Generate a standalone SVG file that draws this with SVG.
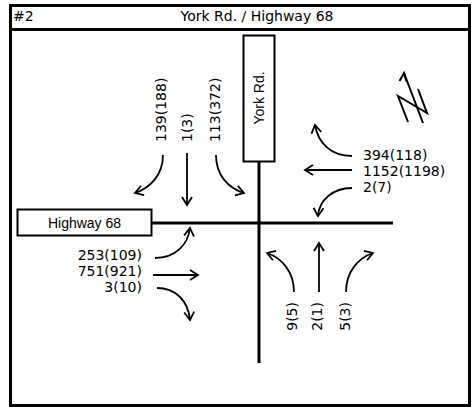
<svg xmlns="http://www.w3.org/2000/svg" width="475" height="407" viewBox="0 0 475 407">
<style>
.t{font-family:"DejaVu Sans",Verdana,sans-serif;font-size:14px;fill:#000}
.r{font-family:"Liberation Sans",Arial,sans-serif;font-size:14px;fill:#000}
.a{fill:none;stroke:#000;stroke-width:1.8;marker-end:url(#ah)}
.road{stroke:#000;stroke-width:3;fill:none}
.box{fill:#fff;stroke:#000;stroke-width:2}
</style>
<defs>
<marker id="ah" markerUnits="userSpaceOnUse" markerWidth="20" markerHeight="20" refX="10" refY="10" orient="auto" overflow="visible">
<path d="M2,5 L10,10 L2,15" fill="none" stroke="#000" stroke-width="1.8"/>
</marker>
</defs>
<rect x="0" y="0" width="475" height="407" fill="#fff"/>
<g id="frame">
<rect x="10.5" y="5.5" width="459" height="400" fill="none" stroke="#000" stroke-width="3"/>
<line x1="10" y1="29.5" x2="470" y2="29.5" stroke="#000" stroke-width="3"/>
<text class="t" x="13" y="21">#2</text>
<text class="t" x="257" y="21" text-anchor="middle">York Rd. / Highway 68</text>
</g>
<g id="roads">
<line class="road" x1="259" y1="161" x2="259" y2="363"/>
<line class="road" x1="151" y1="223" x2="393" y2="223"/>
</g>
<g id="york-rd">
<rect class="box" x="243.5" y="35.5" width="31" height="126"/>
<text class="r" transform="translate(264,98) rotate(-90)" text-anchor="middle">York Rd.</text>
</g>
<g id="highway-68">
<rect class="box" x="17.5" y="209.5" width="134" height="26"/>
<text class="r" x="84.5" y="227.5" text-anchor="middle">Highway 68</text>
</g>
<g id="north-arrow" fill="none" stroke="#000" stroke-width="2">
<line x1="404" y1="73" x2="423" y2="123"/>
<path d="M399.5,81 L404,73 L406.5,81.5"/>
<polyline points="408,122 398,96 427,113 418,89"/>
</g>
<g id="connectors">
<path class="a" d="M163,155 C163,175 150,188 135,193"/>
<path class="a" d="M187,153 L187,205"/>
<path class="a" d="M216,155 C216,175 228,188 244,193"/>
<path class="a" d="M352,156 C330,156 318,142 315,125"/>
<path class="a" d="M352,170 L305,170"/>
<path class="a" d="M352,188 C333,188 319,200 318,216"/>
<path class="a" d="M155,258 C175,258 188,245 190,228"/>
<path class="a" d="M153,275 L198,275"/>
<path class="a" d="M157,288 C175,288 188,300 190,320"/>
<path class="a" d="M294,292 C294,272 282,258 267,253"/>
<path class="a" d="M319,292 L319,243"/>
<path class="a" d="M346,292 C346,272 358,258 373,253"/>
</g>
<g id="labels">
<text class="t" transform="translate(166,142) rotate(-90)">139(188)</text>
<text class="t" transform="translate(192,142) rotate(-90)">1(3)</text>
<text class="t" transform="translate(220,142) rotate(-90)">113(372)</text>
<text class="t" x="363" y="160">394(118)</text>
<text class="t" x="363" y="176">1152(1198)</text>
<text class="t" x="363" y="192">2(7)</text>
<text class="t" x="142" y="260" text-anchor="end">253(109)</text>
<text class="t" x="142" y="276" text-anchor="end">751(921)</text>
<text class="t" x="142" y="292" text-anchor="end">3(10)</text>
<text class="t" transform="translate(297,302) rotate(-90)" text-anchor="end">9(5)</text>
<text class="t" transform="translate(322,302) rotate(-90)" text-anchor="end">2(1)</text>
<text class="t" transform="translate(350,302) rotate(-90)" text-anchor="end">5(3)</text>
</g>
</svg>
